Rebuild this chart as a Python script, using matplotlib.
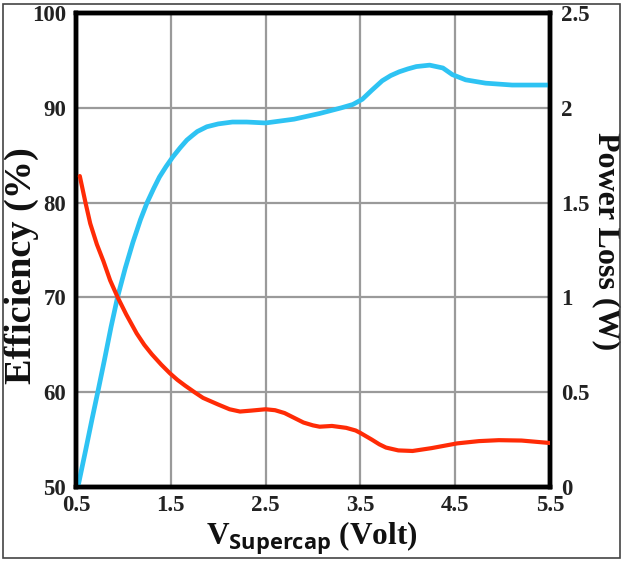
import matplotlib
matplotlib.use("Agg")
import matplotlib.pyplot as plt
from matplotlib.patches import Rectangle

# Efficiency (%) vs supercap voltage (blue, left axis)
v_eff = [0.52, 0.6, 0.67, 0.74, 0.8, 0.87, 0.94, 1.02, 1.1, 1.18, 1.25, 1.32, 1.38, 1.45, 1.52, 1.6, 1.67, 1.73, 1.78, 1.88, 2.0, 2.15, 2.3, 2.5, 2.8, 3.07, 3.3, 3.42, 3.52, 3.62, 3.73, 3.82, 3.91, 4.0, 4.09, 4.23, 4.37, 4.47, 4.61, 4.82, 5.1, 5.5]
eff = [50.0, 53.8, 57.2, 60.5, 63.4, 66.9, 70.1, 73.1, 75.8, 78.2, 80.0, 81.5, 82.7, 83.8, 84.8, 85.8, 86.6, 87.1, 87.5, 88.0, 88.3, 88.5, 88.5, 88.4, 88.8, 89.4, 90.0, 90.35, 90.9, 91.85, 92.85, 93.4, 93.8, 94.1, 94.35, 94.5, 94.2, 93.5, 92.95, 92.6, 92.4, 92.4]

# Power loss (W) vs supercap voltage (red, right axis)
v_pl = [0.54, 0.6, 0.65, 0.72, 0.79, 0.86, 0.94, 1.03, 1.14, 1.22, 1.3, 1.4, 1.49, 1.57, 1.65, 1.75, 1.84, 2.0, 2.12, 2.23, 2.35, 2.5, 2.6, 2.7, 2.8, 2.9, 3.0, 3.07, 3.2, 3.35, 3.45, 3.5, 3.62, 3.7, 3.77, 3.9, 4.05, 4.25, 4.52, 4.75, 4.96, 5.2, 5.5]
ploss = [1.64, 1.5, 1.39, 1.28, 1.19, 1.09, 1.0, 0.91, 0.81, 0.75, 0.70, 0.645, 0.60, 0.565, 0.535, 0.50, 0.47, 0.435, 0.41, 0.398, 0.403, 0.41, 0.405, 0.39, 0.365, 0.34, 0.325, 0.318, 0.322, 0.312, 0.298, 0.285, 0.25, 0.225, 0.208, 0.193, 0.19, 0.205, 0.23, 0.242, 0.247, 0.245, 0.232]

x_ticks = [0.5, 1.5, 2.5, 3.5, 4.5, 5.5]
eff_ticks = [50, 60, 70, 80, 90, 100]
pl_ticks = [0, 0.5, 1, 1.5, 2, 2.5]
pl_labels = ["0", "0.5", "1", "1.5", "2", "2.5"]

plt.rcParams['font.family'] = ['Liberation Serif', 'DejaVu Serif']
plt.rcParams['font.weight'] = 'bold'
plt.rcParams['mathtext.fontset'] = 'custom'
plt.rcParams['mathtext.rm'] = 'Liberation Serif:bold'
plt.rcParams['mathtext.bf'] = 'Liberation Serif:bold'
plt.rcParams['mathtext.sf'] = 'Open Sans:bold'

fig = plt.figure(figsize=(6.24, 5.62), dpi=100)
ax = fig.add_axes([76/624, 1 - 487/562, (550-76)/624, (487-13)/562])
ax2 = ax.twinx()

ax.plot(v_eff, eff, color='#2EC3F3', lw=3.4, solid_capstyle='round', solid_joinstyle='round', zorder=3)
ax2.plot(v_pl, ploss, color='#FF2B06', lw=3.0, solid_capstyle='round', solid_joinstyle='round', zorder=3)

ax.set_xlim(0.5, 5.5)
ax.set_ylim(50, 100)
ax2.set_ylim(0, 2.5)
ax.set_xticks(x_ticks)
ax.set_xticklabels([str(t) for t in x_ticks])
ax.set_yticks(eff_ticks)
ax2.set_yticks(pl_ticks)
ax2.set_yticklabels(pl_labels)

ax.grid(True, color='#9a9a9a', lw=1.6)
ax.set_axisbelow(True)
for a in (ax, ax2):
    for s in a.spines.values():
        s.set_linewidth(3.2)
        s.set_color('black')
    a.tick_params(length=0, labelsize=16.5, colors='#222222')
ax.tick_params(axis='x', pad=6)
ax.tick_params(axis='y', pad=7)
ax2.tick_params(axis='y', pad=8)
for lab in ax.get_xticklabels() + ax.get_yticklabels() + ax2.get_yticklabels():
    lab.set_fontweight('bold')

ax.set_ylabel('Efficiency (%)', fontsize=27.5, fontweight='bold', color='#111111')
ax.yaxis.set_label_coords((39 - 76) / 474, (487 - 266) / 474)
ax2.set_ylabel('Power Loss (W)', fontsize=23, fontweight='bold', rotation=270, color='#111111')
ax2.yaxis.set_label_coords((621 - 76) / 474, (487 - 241) / 474)
ax.set_xlabel(r'V$_{\mathsf{Supercap}}$ (Volt)', fontsize=22.5, fontweight='bold', color='#111111')
ax.xaxis.set_label_coords((312 - 76) / 474, -(520 - 487) / 474)

fig.patches.append(Rectangle((3/624, 4/562), 617/624, 554/562, transform=fig.transFigure,
                             fill=False, edgecolor='#444444', lw=1.2))

fig.savefig('out.png', dpi=100)
